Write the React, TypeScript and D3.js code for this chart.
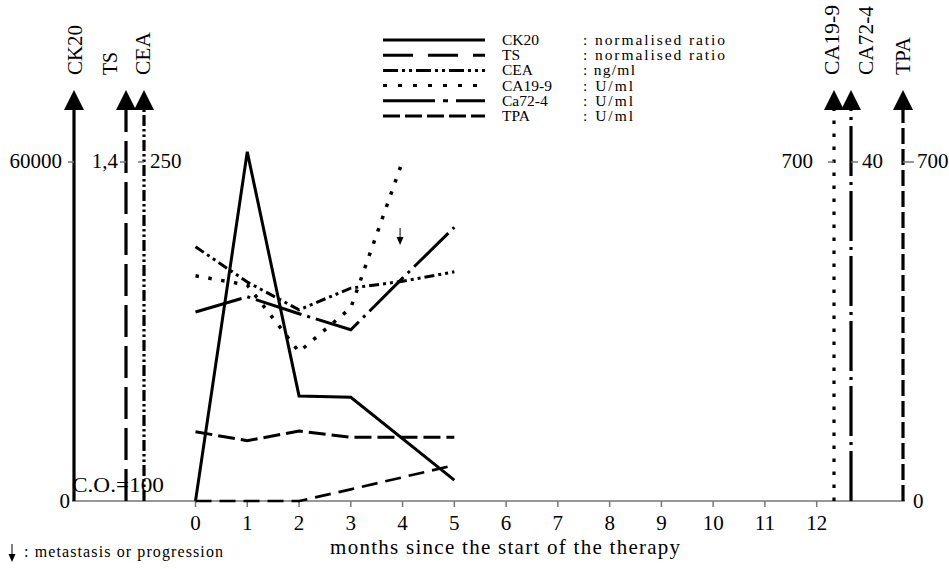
import * as d3 from "d3";
import { useEffect, useRef } from "react";

const months = [0, 1, 2, 3, 4, 5];
const monthTicks = [0, 1, 2, 3, 4, 5, 6, 7, 8, 9, 10, 11, 12];

// values, null = no point that month
const ck20 = [0, 61800, 18600, 18350, null, 3700];
const ts = [0.286, 0.249, 0.289, 0.263, 0.263, 0.263];
const cea = [187.5, 161.5, 141, 157, 162, 169];
const ca199 = [465, 446, 308, 399, 702, null];
const ca724 = [22.3, 24.1, 22.1, 20.2, 26.3, 32.3];
const tpa = [0, 0, 0, 24, 49, 74];

const axisTops = { ck20: 60000, ts: 1.4, cea: 250, ca199: 700, ca724: 40, tpa: 700 };
const axisTopLabels = { ck20: "60000", ts: "1,4", cea: "250", ca199: "700", ca724: "40", tpa: "700" };

const legendNames = ["CK20", "TS", "CEA", "CA19-9", "Ca72-4", "TPA"];
const legendUnits = [": normalised ratio", ": normalised ratio", ": ng/ml", ": U/ml", ": U/ml", ": U/ml"];
const metastasisMonth = 4;

const FONT = "'Liberation Serif', 'DejaVu Serif', serif";

const App = () => {
    const svgRef = useRef(null);

    useEffect(() => {
        const svg = d3.select(svgRef.current);
        svg.selectAll("*").remove();

        const width = 949;
        const height = 569;
        const y0 = 501;
        const yTop = 162;

        const x = d3.scaleLinear().domain([0, 12]).range([195.5, 816.7]);
        const yScale = (top) => d3.scaleLinear().domain([0, top]).range([y0, yTop]);

        const series = [
            { key: "ck20", values: ck20, dash: null, w: 3, axisX: 74, axisDash: null, legDash: null, tickSide: -1, label: "CK20", labelX: 75, labelLen: 50, valueSide: "left", valueX: 62 },
            { key: "ts", values: ts, dash: "17,6", w: 3, axisX: 126, axisDash: "32,9", legDash: "30,15", tickSide: -1, label: "TS", labelX: 110, labelLen: 23, valueSide: "left", valueX: 118 },
            { key: "cea", values: cea, dash: "10,4,3,4,3,4", w: 3, axisX: 144, axisDash: "11,3,2.5,3,2.5,3", legDash: "15,4,3,4,3,4", tickSide: -1, label: "CEA", labelX: 143, labelLen: 43, valueSide: "right", valueX: 150 },
            { key: "ca199", values: ca199, dash: "3.5,9.5", w: 3.5, axisX: 834, axisDash: "3.5,9.5", legDash: "4,11", tickSide: -1, label: "CA19-9", labelX: 832, labelLen: 70, valueSide: "left", valueX: 813 },
            { key: "ca724", values: ca724, dash: "48,6,3,6", w: 3, axisX: 851, axisDash: "50,6,3,6", legDash: "52,8,5,8", tickSide: 1, label: "CA72-4", labelX: 866, labelLen: 69, valueSide: "right", valueX: 862 },
            { key: "tpa", values: tpa, dash: "16,8", w: 2.6, axisX: 903, axisDash: "16,5", legDash: "17,5", tickSide: 1, label: "TPA", labelX: 903, labelLen: 38, valueSide: "right", valueX: 917 }
        ];

        svg.append("rect").attr("width", width).attr("height", height).attr("fill", "#fff");

        // horizontal month axis
        svg.append("line")
            .attr("x1", 72).attr("x2", 905)
            .attr("y1", y0).attr("y2", y0)
            .attr("stroke", "#777").attr("stroke-width", 1.5);

        svg.append("g")
            .selectAll("line")
            .data(monthTicks)
            .join("line")
            .attr("x1", d => x(d)).attr("x2", d => x(d))
            .attr("y1", y0).attr("y2", y0 + 6)
            .attr("stroke", "#777").attr("stroke-width", 1.5);

        svg.append("g")
            .selectAll("text")
            .data(monthTicks)
            .join("text")
            .attr("x", d => x(d))
            .attr("y", 530)
            .attr("text-anchor", "middle")
            .attr("font-family", FONT)
            .attr("font-size", 21)
            .text(d => d);

        svg.append("text")
            .attr("x", x(6) - 1)
            .attr("y", 554)
            .attr("text-anchor", "middle")
            .attr("font-family", FONT)
            .attr("font-size", 21)
            .attr("textLength", 350)
            .text("months since the start of the therapy");

        // vertical axes with arrow heads
        series.forEach(s => {
            const g = svg.append("g");
            g.append("line")
                .attr("x1", s.axisX).attr("x2", s.axisX)
                .attr("y1", y0).attr("y2", 108)
                .attr("stroke", "#000").attr("stroke-width", 3.2)
                .attr("stroke-dasharray", s.axisDash);
            g.append("path")
                .attr("d", `M${s.axisX},90 L${s.axisX - 10},110 L${s.axisX + 10},110 Z`)
                .attr("fill", "#000");
            const tx = s.tickSide < 0 ? s.axisX - 6 : s.axisX + (s.key === "tpa" ? 11 : 7);
            g.append("line")
                .attr("x1", s.axisX).attr("x2", tx)
                .attr("y1", yTop).attr("y2", yTop)
                .attr("stroke", "#777").attr("stroke-width", 1.5);
            g.append("text")
                .attr("x", s.valueX)
                .attr("y", yTop + 6)
                .attr("text-anchor", s.valueSide === "left" ? "end" : "start")
                .attr("font-family", FONT)
                .attr("font-size", 21)
                .text(axisTopLabels[s.key]);
            g.append("text")
                .attr("transform", `translate(${s.labelX + 7},75) rotate(-90)`)
                .attr("font-family", FONT)
                .attr("font-size", 21)
                .attr("textLength", s.labelLen)
                .attr("lengthAdjust", "spacingAndGlyphs")
                .text(s.label);
        });

        svg.append("text")
            .attr("x", 70).attr("y", 508)
            .attr("text-anchor", "end")
            .attr("font-family", FONT).attr("font-size", 21)
            .text("0");
        svg.append("text")
            .attr("x", 913).attr("y", 508)
            .attr("font-family", FONT).attr("font-size", 21)
            .text("0");

        svg.append("text")
            .attr("x", 72).attr("y", 492)
            .attr("font-family", FONT).attr("font-size", 21)
            .attr("textLength", 92)
            .attr("lengthAdjust", "spacingAndGlyphs")
            .text("C.O.=100");

        // data lines (gaps are bridged, as in the original)
        series.forEach(s => {
            const ys = yScale(axisTops[s.key]);
            const idx = months.map((m, i) => i).filter(i => s.values[i] != null);
            const gen = d3.line()
                .x(i => x(months[i]))
                .y(i => ys(s.values[i]));
            svg.append("path")
                .datum(idx)
                .attr("fill", "none")
                .attr("stroke", "#000")
                .attr("stroke-width", s.w)
                .attr("stroke-dasharray", s.dash)
                .attr("d", gen);
        });

        // metastasis arrow
        const ax = x(metastasisMonth) - 2.5;
        svg.append("line")
            .attr("x1", ax).attr("x2", ax)
            .attr("y1", 228).attr("y2", 240)
            .attr("stroke", "#000").attr("stroke-width", 1);
        svg.append("path")
            .attr("d", `M${ax - 3.5},237 L${ax + 3.5},237 L${ax},245 Z`)
            .attr("fill", "#000");

        // legend
        const legend = svg.append("g");
        series.forEach((s, i) => {
            const cy = 40 + i * 15.2;
            legend.append("line")
                .attr("x1", 383).attr("x2", 485)
                .attr("y1", cy).attr("y2", cy)
                .attr("stroke", "#000").attr("stroke-width", 3)
                .attr("stroke-dasharray", s.legDash);
            legend.append("text")
                .attr("x", 502).attr("y", cy + 5)
                .attr("font-family", FONT).attr("font-size", 15.5)
                .text(legendNames[i]);
            const unitLen = { ": normalised ratio": 142, ": ng/ml": 52, ": U/ml": 50 }[legendUnits[i]];
            legend.append("text")
                .attr("x", 583).attr("y", cy + 5)
                .attr("font-family", FONT).attr("font-size", 15.5)
                .attr("textLength", unitLen)
                .text(legendUnits[i]);
        });

        // note at the bottom
        svg.append("line")
            .attr("x1", 12).attr("x2", 12)
            .attr("y1", 544).attr("y2", 556)
            .attr("stroke", "#000").attr("stroke-width", 1);
        svg.append("path")
            .attr("d", "M8.5,554 L15.5,554 L12,562 Z")
            .attr("fill", "#000");
        svg.append("text")
            .attr("x", 24).attr("y", 557)
            .attr("font-family", FONT).attr("font-size", 16)
            .attr("textLength", 199)
            .text(": metastasis or progression");
    }, []);

    return (
        <svg
            ref={svgRef}
            width={949}
            height={569}
            style={{ position: "absolute", left: 0, top: 0, display: "block" }}
        />
    );
};

export default App;
